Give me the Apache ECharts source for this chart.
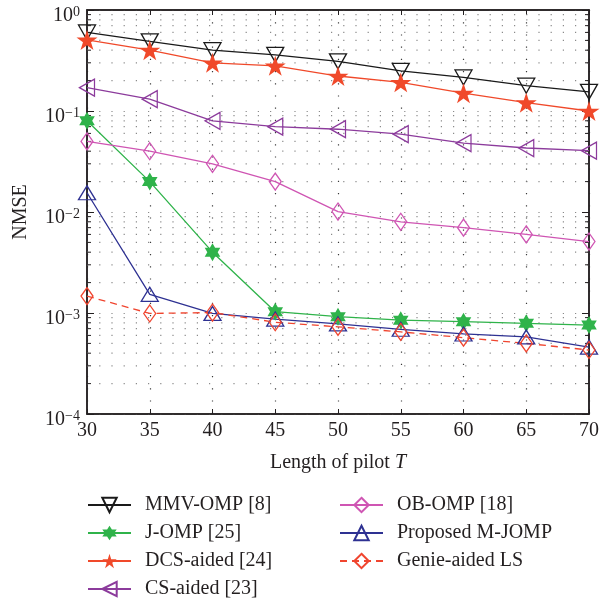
<!DOCTYPE html>
<html>
<head>
<meta charset="utf-8">
<script src="https://cdn.jsdelivr.net/npm/echarts@6/dist/echarts.min.js"></script>
<style>
  html, body { margin: 0; padding: 0; background: #fff; }
  #chart { width: 602px; height: 604px; }
</style>
</head>
<body>
<div id="chart"></div>
<script>
// Pilot length T (x axis)
const pilotLength = [30, 35, 40, 45, 50, 55, 60, 65, 70];

// NMSE of each estimator
const mmvOmp   = [0.60, 0.49, 0.40, 0.36, 0.31, 0.25, 0.215, 0.178, 0.155];
const jOmp     = [0.080, 0.020, 0.0040, 0.00103, 0.00092, 0.00085, 0.00082, 0.00079, 0.00076];
const dcsAided = [0.505, 0.40, 0.30, 0.28, 0.222, 0.192, 0.150, 0.121, 0.100];
const csAided  = [0.17, 0.131, 0.080, 0.070, 0.066, 0.059, 0.048, 0.043, 0.0405];
const obOmp    = [0.050, 0.040, 0.030, 0.020, 0.0101, 0.0080, 0.0070, 0.0060, 0.0051];
const proposed = [0.0155, 0.00153, 0.00099, 0.00087, 0.00078, 0.00069, 0.00062, 0.00058, 0.00046];
const genieLs  = [0.00147, 0.00099, 0.00101, 0.00081, 0.00073, 0.00065, 0.00057, 0.00050, 0.00043];

// Legend entries
const legendLeft  = ['MMV-OMP [8]', 'J-OMP [25]', 'DCS-aided [24]', 'CS-aided [23]'];
const legendRight = ['OB-OMP [18]', 'Proposed M-JOMP', 'Genie-aided LS'];

// Log-axis minor positions (2..9 in each decade)
const minorMantissas = [2, 3, 4, 5, 6, 7, 8, 9];
const minorDecades = [1e-4, 1e-3, 1e-2, 1e-1];

const X_MIN = 30, X_MAX = 70, Y_MIN = 1e-4, Y_MAX = 1;
const INK = '#231f20';
const FONT = '"Liberation Serif", "DejaVu Serif", serif';
const FS = 20;

const minorValues = [];
minorDecades.forEach(d => minorMantissas.forEach(m => minorValues.push([X_MIN, m * d])));

const pentagram = 'path://M100,0 L122.45,69.1 L195.1,69.1 L136.3,111.8 L158.8,180.9 L100,138.2 L41.2,180.9 L63.7,111.8 L4.9,69.1 L77.55,69.1 Z';
const hexagram = 'path://M100,0 L128.87,50 L186.6,50 L157.7,100 L186.6,150 L128.87,150 L100,200 L71.13,150 L13.4,150 L42.3,100 L13.4,50 L71.13,50 Z';

function pairs(ys) { return pilotLength.map((x, i) => [x, ys[i]]); }

function lineSeries(name, ys, color, symbol, size, opts) {
  opts = opts || {};
  return Object.assign({
    name: name,
    type: 'line',
    data: pairs(ys),
    symbol: symbol,
    symbolSize: size,
    symbolKeepAspect: true,
    showAllSymbol: true,
    lineStyle: { color: color, width: 1.3, type: opts.dash ? [7, 5] : 'solid' },
    itemStyle: opts.filled
      ? { color: color, borderColor: color, borderWidth: 0 }
      : { color: 'rgba(255,255,255,0)', borderColor: color, borderWidth: 1.3 },
    emphasis: { disabled: true },
    z: 3
  }, opts.extra || {});
}

function decadeLabel(v) {
  const e = Math.round(Math.log10(v));
  const exp = e < 0 ? '\u2212' + (-e) : String(e);
  return '{b|10}{s|' + exp + '}';
}

const legendCommon = {
  orient: 'vertical',
  padding: 0,
  height: 130,
  itemWidth: 43,
  itemHeight: 18,
  itemGap: 8,
  textStyle: { fontFamily: FONT, fontSize: FS, lineHeight: 18, color: INK, padding: [0, 0, 0, 9] },
  selectedMode: false
};

const chart = echarts.init(document.getElementById('chart'), null, { renderer: 'canvas' });

chart.setOption({
  animation: false,
  backgroundColor: '#fff',
  grid: { left: 87, right: 10, top: 10, bottom: 190, show: true, borderColor: INK, borderWidth: 1.5 },
  legend: [
    Object.assign({ data: legendLeft, left: 87, top: 495 }, legendCommon),
    Object.assign({ data: legendRight, left: 339, top: 495 }, legendCommon)
  ],
  xAxis: [{
    type: 'value', min: X_MIN, max: X_MAX, interval: 5,
    name: '{n|Length of pilot }{i|T}',
    nameLocation: 'middle', nameGap: 39,
    nameTextStyle: {
      rich: {
        n: { fontFamily: FONT, fontSize: FS, color: INK },
        i: { fontFamily: FONT, fontSize: FS, color: INK, fontStyle: 'italic' }
      }
    },
    axisLine: { show: true, lineStyle: { color: INK, width: 1.5 } },
    axisTick: { inside: true, length: 5, lineStyle: { color: INK } },
    axisLabel: { fontFamily: FONT, fontSize: FS, color: INK, margin: 7 },
    splitLine: { show: true, lineStyle: { color: '#3a3a3a', width: 1.2, type: [1.2, 11] } }
  }, {
    type: 'value', position: 'top', min: X_MIN, max: X_MAX, interval: 5,
    axisLine: { show: true, lineStyle: { color: INK, width: 1.5 } },
    axisTick: { inside: true, length: 5, lineStyle: { color: INK } },
    axisLabel: { show: false },
    splitLine: { show: false }
  }],
  yAxis: [{
    type: 'log', logBase: 10, min: Y_MIN, max: Y_MAX,
    name: 'NMSE', nameLocation: 'middle', nameGap: 56, nameRotate: 90,
    nameTextStyle: { fontFamily: FONT, fontSize: FS, color: INK },
    axisLine: { show: true, lineStyle: { color: INK, width: 1.5 } },
    axisTick: { inside: true, length: 7, lineStyle: { color: INK } },
    axisLabel: {
      margin: 7,
      formatter: decadeLabel,
      rich: {
        b: { fontFamily: FONT, fontSize: FS, color: INK, verticalAlign: 'bottom', padding: [12, 0, 0, 0] },
        s: { fontFamily: FONT, fontSize: 14, color: INK, verticalAlign: 'bottom', padding: [0, 0, 7, 0] }
      }
    },
    splitLine: { show: true, lineStyle: { color: '#8a8a8a', width: 1.2, type: [1.2, 11] } }
  }, {
    type: 'log', logBase: 10, min: Y_MIN, max: Y_MAX, position: 'right',
    axisLine: { show: true, lineStyle: { color: INK, width: 1.5 } },
    axisTick: { inside: true, length: 7, lineStyle: { color: INK } },
    axisLabel: { show: false },
    splitLine: { show: false }
  }],
  series: [
    {
      // dotted minor grid lines with short inward ticks on both sides
      name: 'minor-grid',
      type: 'custom',
      silent: true,
      z: 1,
      data: minorValues,
      encode: { x: 0, y: 1 },
      renderItem: function (params, api) {
        const v = api.value(1);
        const a = api.coord([X_MIN, v]);
        const b = api.coord([X_MAX, v]);
        return {
          type: 'group',
          children: [
            { type: 'line', shape: { x1: a[0], y1: a[1], x2: b[0], y2: b[1] },
              style: { stroke: '#8a8a8a', lineWidth: 1.2, lineDash: [1.2, 11] } },
            { type: 'line', shape: { x1: a[0], y1: a[1], x2: a[0] + 4, y2: a[1] },
              style: { stroke: INK, lineWidth: 1 } },
            { type: 'line', shape: { x1: b[0] - 4, y1: b[1], x2: b[0], y2: b[1] },
              style: { stroke: INK, lineWidth: 1 } }
          ]
        };
      }
    },
    lineSeries('MMV-OMP [8]', mmvOmp, '#1a1a1a', 'triangle', [17, 15], { extra: { symbolRotate: 180 } }),
    lineSeries('J-OMP [25]', jOmp, '#2fb34a', hexagram, 18, { filled: true }),
    lineSeries('DCS-aided [24]', dcsAided, '#f0492a', pentagram, 21, { filled: true }),
    lineSeries('CS-aided [23]', csAided, '#8c3b9c', 'triangle', [17, 15], { extra: { symbolRotate: 90 } }),
    lineSeries('OB-OMP [18]', obOmp, '#cf55b3', 'diamond', [12, 17]),
    lineSeries('Proposed M-JOMP', proposed, '#2e3192', 'triangle', [17, 14]),
    lineSeries('Genie-aided LS', genieLs, '#f0452f', 'diamond', [12, 17], { dash: true })
  ]
});
</script>
</body>
</html>
